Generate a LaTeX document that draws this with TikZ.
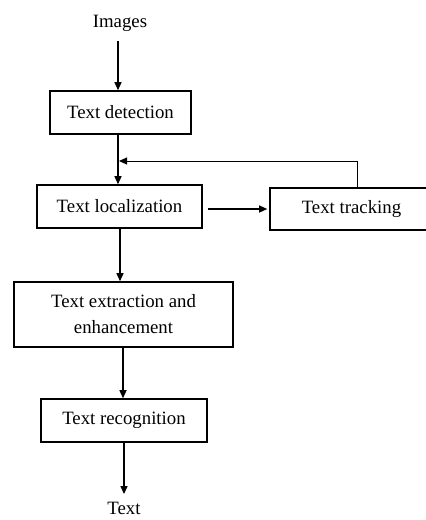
\documentclass[tikz,border=0pt]{standalone}
\usepackage{fontspec}
\setmainfont{Liberation Serif}
\usetikzlibrary{arrows.meta}
\begin{document}
\begin{tikzpicture}[x=1pt,y=-1pt,
  box/.style={draw=black,line width=1.6pt,inner sep=0pt,align=center,font=\fontsize{18.8}{26}\selectfont},
  lbl/.style={inner sep=0pt,font=\fontsize{18.8}{22}\selectfont},
  arr/.style={line width=1.3pt,-{Triangle[length=8pt,width=7pt]}}]
\useasboundingbox (0,0) rectangle (426,520);
\node[lbl] (img) at (120,23) {Images};
\node[box,minimum width=141pt,minimum height=43pt] (det) at (120.5,112.5) {Text detection};
\node[box,minimum width=165pt,minimum height=43pt] (loc) at (119.5,206.5) {Text localization};
\node[box,minimum width=163pt,minimum height=42pt] (trk) at (351.5,209) {Text tracking};
\node[box,minimum width=219pt,minimum height=65pt] (ext) at (123.5,314.5) {Text extraction and\\enhancement};
\node[box,minimum width=166pt,minimum height=43pt] (rec) at (124,420.5) {Text recognition};
\node[lbl] (out) at (124,508.5) {Text};
\coordinate (fb) at (119,161);
\draw[arr,shorten <=10pt] (img.south -| 118,0) -- (det.north -| 118,0);
\draw[arr] (det.south -| 118,0) -- (loc.north -| 118,0);
\draw[arr,line width=1pt] ([xshift=5.5pt]trk.north) |- (fb);
\draw[arr,shorten <=5pt,shorten >=2pt] (loc.east |- trk.west) -- (trk.west);
\draw[arr] (loc.south -| 120,0) -- (ext.north -| 120,0);
\draw[arr] (ext.south -| 123,0) -- (rec.north -| 123,0);
\draw[arr,shorten >=8pt] (rec.south -| 124,0) -- (out.north -| 124,0);
\end{tikzpicture}
\end{document}
